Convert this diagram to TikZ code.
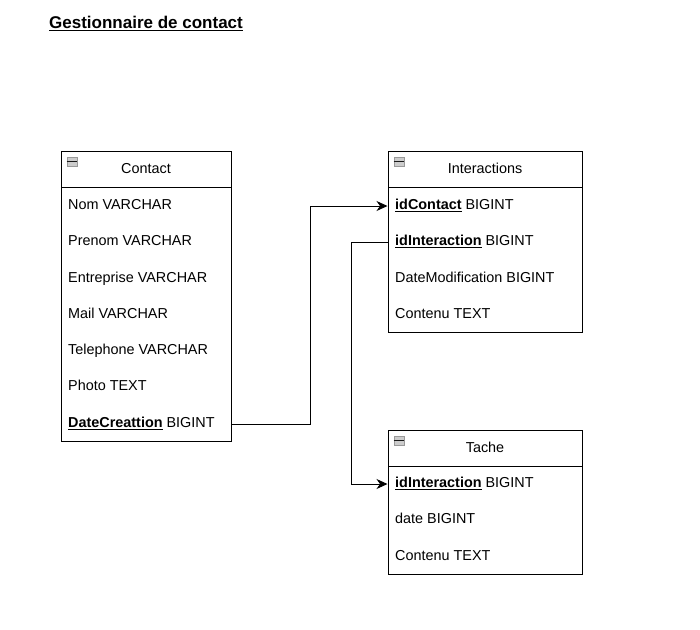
\documentclass[tikz,border=0pt]{standalone}
\usepackage{fontspec}
\setmainfont{Liberation Sans}
\usepackage{tikz}
\usetikzlibrary{arrows.meta,calc}

\tikzset{
  titre/.style={anchor=west,inner sep=0pt,font=\fontsize{17}{20}\selectfont\bfseries},
  entete/.style={draw,line width=1pt,minimum height=36pt,inner sep=0pt,text height=10pt,text depth=1pt,font=\fontsize{14.4}{17}\selectfont},
  corps/.style={draw,line width=1pt,inner sep=0pt},
  champ/.style={anchor=west,inner sep=0pt,text height=10pt,text depth=3pt,font=\fontsize{14.4}{17}\selectfont},
  icone/.style={draw=gray!80,fill=gray!40,line width=0.6pt,minimum width=10pt,minimum height=9pt,inner sep=0pt},
  fleche/.style={line width=1pt,-{Stealth[length=11pt,width=10pt,inset=3.5pt]}}
}

\begin{document}
\begin{tikzpicture}[x=1pt,y=-1pt]
\useasboundingbox (0,0) rectangle (700,629);
\node[titre] (titre) at (49,23.5) {\underline{Gestionnaire de contact}};

\node[entete,minimum width=170pt] (contact) at (146,169) {Contact};
\node[corps,minimum width=170pt,minimum height=254pt] (contactcorps) at (146,314) {};
\node[icone] (icocontact) at (72,161.5) {};
\draw[gray!20!black,line width=0.8pt] (icocontact.west) -- (icocontact.east);
\node[champ] (nom) at (68,206) {Nom VARCHAR};
\node[champ] (prenom) at (68,242) {Prenom VARCHAR};
\node[champ] (entreprise) at (68,278.5) {Entreprise VARCHAR};
\node[champ] (mail) at (68,315) {Mail VARCHAR};
\node[champ] (telephone) at (68,351) {Telephone VARCHAR};
\node[champ] (photo) at (68,387) {Photo TEXT};
\node[champ] (datecreation) at (68,424) {\textbf{\underline{DateCreattion}} BIGINT};

\node[entete,minimum width=194pt] (interactions) at (485,169) {Interactions};
\node[corps,minimum width=194pt,minimum height=145pt] (interactionscorps) at (485,259.5) {};
\node[icone] (icointeractions) at (399,161.5) {};
\draw[gray!20!black,line width=0.8pt] (icointeractions.west) -- (icointeractions.east);
\node[champ] (idcontact) at (395,206) {\textbf{\underline{idContact}} BIGINT};
\node[champ] (idinteraction) at (395,242) {\textbf{\underline{idInteraction}} BIGINT};
\node[champ] (datemodif) at (395,278.5) {DateModification BIGINT};
\node[champ] (contenu) at (395,315) {Contenu TEXT};

\node[entete,minimum width=194pt] (tache) at (485,448) {Tache};
\node[corps,minimum width=194pt,minimum height=108pt] (tachecorps) at (485,520) {};
\node[icone] (icotache) at (399,440.5) {};
\draw[gray!20!black,line width=0.8pt] (icotache.west) -- (icotache.east);
\node[champ] (idinteractiontache) at (395,484) {\textbf{\underline{idInteraction}} BIGINT};
\node[champ] (date) at (395,520) {date BIGINT};
\node[champ] (contenutache) at (395,557) {Contenu TEXT};

\draw[fleche] (contactcorps.east |- datecreation) -- ++(79,0) |- (interactionscorps.west |- idcontact);
\draw[fleche] (interactionscorps.west |- idinteraction) -- ++(-36,0) |- (tachecorps.west |- idinteractiontache);
\end{tikzpicture}
\end{document}
